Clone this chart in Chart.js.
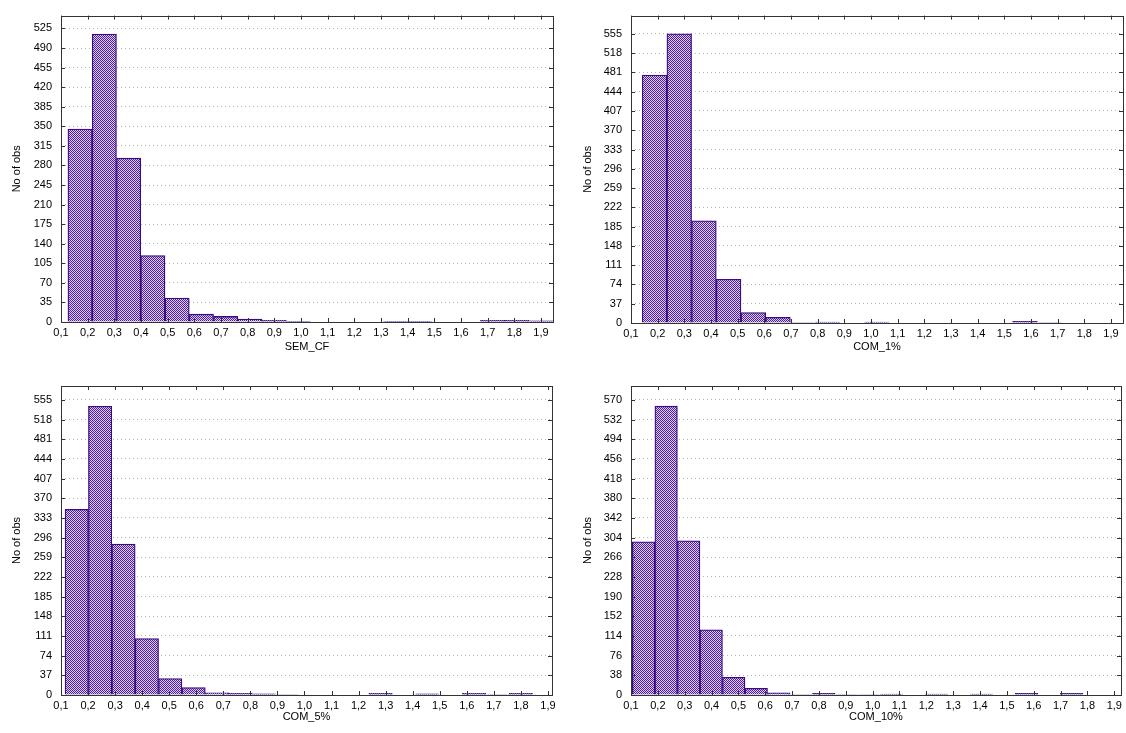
<!DOCTYPE html>
<html>
<head>
<meta charset="utf-8">
<script src="https://cdn.jsdelivr.net/npm/chart.js@4.4.1/dist/chart.umd.min.js"></script>
<style>
  body { margin: 0; background: #fff; }
  #wrap { position: relative; width: 1126px; height: 733px; }
  canvas { position: absolute; }
</style>
</head>
<body>
<div id="wrap">
  <canvas id="g1" width="563" height="366" style="left:0;top:0"></canvas>
  <canvas id="g2" width="556" height="366" style="left:570px;top:0"></canvas>
  <canvas id="g3" width="563" height="363" style="left:0;top:370px"></canvas>
  <canvas id="g4" width="556" height="363" style="left:570px;top:370px"></canvas>
</div>
<script>
// histogram data (20 bins per variable)
const semStart = 0.126, semWidth = 0.091;
const semCF = [345, 515, 293, 119, 43, 14, 10, 5, 3, 1, 0, 0, 0, 1, 1, 0, 0, 3, 3, 2];

const com1Start = 0.142, com1Width = 0.0926;
const com1 = [476, 555, 196, 84, 20, 11, 1, 2, 0, 2, 0, 0, 0, 0, 0, 3, 1, 0, 0, 0];

const com5Start = 0.115, com5Width = 0.0864;
const com5 = [349, 543, 284, 106, 31, 14, 4, 3, 2, 1, 0, 0, 0, 3, 0, 2, 0, 3, 1, 3];

const com10Start = 0.105, com10Width = 0.0839;
const com10 = [296, 558, 298, 126, 34, 13, 4, 1, 3, 1, 1, 2, 0, 2, 0, 2, 0, 3, 0, 3];

const yTitle = 'No of obs';

// pattern de hachura das barras
function hatch() {
    const c = document.createElement('canvas');
    c.width = 2; c.height = 2;
    const g = c.getContext('2d');
    g.fillStyle = '#dccff2';
    g.fillRect(0, 0, 2, 2);
    g.fillStyle = '#4f1ca3';
    g.fillRect(0, 0, 1, 1);
    g.fillRect(1, 1, 1, 1);
    return g.createPattern(c, 'repeat');
}

function multiplo(v, step) {
    const r = v / step;
    return Math.abs(r - Math.round(r)) < 1e-6;
}

// moldura e ticks para dentro
const frame = {
    id: 'frame',
    afterDatasetsDraw(chart) {
        const ctx = chart.ctx, a = chart.chartArea;
        const xs = chart.scales.x, ys = chart.scales.y;
        ctx.save();
        ctx.strokeStyle = '#333';
        ctx.lineWidth = 1;
        ctx.beginPath();
        xs.ticks.forEach(t => {
            const px = Math.round(xs.getPixelForValue(t.value)) + 0.5;
            ctx.moveTo(px, a.top); ctx.lineTo(px, a.top + 4);
            ctx.moveTo(px, a.bottom); ctx.lineTo(px, a.bottom - 4);
        });
        ys.ticks.forEach(t => {
            const py = Math.round(ys.getPixelForValue(t.value)) + 0.5;
            ctx.moveTo(a.left, py); ctx.lineTo(a.left + 4, py);
            ctx.moveTo(a.right, py); ctx.lineTo(a.right - 4, py);
        });
        ctx.stroke();
        ctx.strokeRect(Math.round(a.left) + 0.5, Math.round(a.top) + 0.5,
            Math.round(a.right - a.left), Math.round(a.bottom - a.top));
        ctx.restore();
    }
};

function desenhar(id, counts, start, width, opt) {
    const pts = counts.map((v, i) => ({ x: start + width * (i + 0.5), y: v }));
    const font = { family: 'Liberation Sans, Arial, sans-serif', size: 11 };
    new Chart(document.getElementById(id), {
        type: 'bar',
        data: {
            datasets: [{
                data: pts,
                backgroundColor: hatch(),
                borderColor: '#3b0c7c',
                borderWidth: 1.3,
                borderSkipped: 'start',
                barPercentage: 1,
                categoryPercentage: 1
            }]
        },
        options: {
            responsive: false,
            animation: false,
            events: [],
            layout: { padding: { left: 0, top: opt.top, right: opt.right, bottom: 0 } },
            plugins: { legend: { display: false }, tooltip: { enabled: false } },
            scales: {
                x: {
                    type: 'linear',
                    offset: false,
                    min: 0.1,
                    max: opt.xMax,
                    afterFit: s => { s.height = opt.xh; },
                    afterBuildTicks: s => {
                        s.ticks = s.ticks.filter(t => multiplo(t.value, 0.1));
                    },
                    grid: { display: false, drawTicks: false, offset: false },
                    border: { display: false },
                    ticks: {
                        stepSize: 0.1,
                        includeBounds: false,
                        autoSkip: false,
                        maxRotation: 0,
                        padding: 4,
                        color: '#000',
                        font: font,
                        callback: v => v.toFixed(1).replace('.', ',')
                    },
                    title: {
                        display: true,
                        text: opt.xTitle,
                        color: '#000',
                        font: font,
                        padding: { top: 0, bottom: opt.titlePad }
                    }
                },
                y: {
                    min: 0,
                    max: opt.yMax,
                    afterFit: s => { s.width = 61; },
                    afterBuildTicks: s => {
                        s.ticks = s.ticks.filter(t => multiplo(t.value, opt.step));
                    },
                    grid: { color: '#b4b4b4', lineWidth: 1, drawTicks: false },
                    border: { display: false, dash: [1, 3] },
                    ticks: {
                        stepSize: opt.step,
                        includeBounds: false,
                        padding: 9,
                        color: '#000',
                        font: font,
                        callback: v => String(Math.round(v))
                    },
                    title: {
                        display: true,
                        text: yTitle,
                        color: '#000',
                        font: font,
                        padding: { top: opt.yTitlePad, bottom: 0 }
                    }
                }
            }
        },
        plugins: [frame]
    });
}

desenhar('g1', semCF, semStart, semWidth,
    { xTitle: 'SEM_CF', yMax: 548, step: 35, xMax: 1.945, top: 14, right: 10, xh: 44, titlePad: 12, yTitlePad: 10 });
desenhar('g2', com1, com1Start, com1Width,
    { xTitle: 'COM_1%', yMax: 590, step: 37, xMax: 1.945, top: 14, right: 3, xh: 43, titlePad: 12, yTitlePad: 11 });
desenhar('g3', com5, com5Start, com5Width,
    { xTitle: 'COM_5%', yMax: 581, step: 37, xMax: 1.915, top: 16, right: 11, xh: 38, titlePad: 9, yTitlePad: 10 });
desenhar('g4', com10, com10Start, com10Width,
    { xTitle: 'COM_10%', yMax: 597, step: 38, xMax: 1.925, top: 16, right: 5, xh: 38, titlePad: 9, yTitlePad: 11 });
</script>
</body>
</html>
